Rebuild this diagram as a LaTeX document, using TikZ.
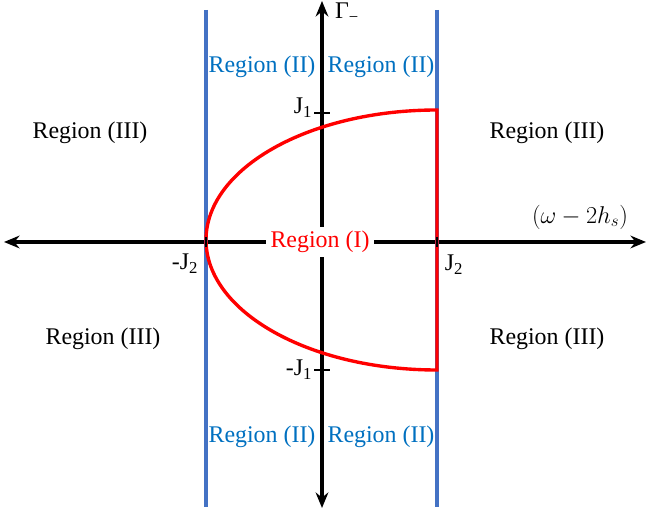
\documentclass[tikz,border=0pt]{standalone}
\usepackage{fontspec}
\setmainfont{Liberation Serif}
\usetikzlibrary{arrows.meta}
\definecolor{lineblue}{HTML}{4472C4}
\definecolor{textblue}{HTML}{0070C0}
\begin{document}
\begin{tikzpicture}[x=0.025cm, y=-0.025cm,
    every node/.style={font=\fontsize{17}{19}\selectfont, inner sep=1pt},
    axis/.style={line width=2.2pt, {Stealth[length=11pt,width=9pt]}-{Stealth[length=11pt,width=9pt]}},
    bound/.style={line width=2.2pt, lineblue},
    regtwo/.style={text=textblue},
    regthree/.style={text=black}]
    \useasboundingbox (0,0) rectangle (647,510);
    % axes
    \coordinate (left) at (4,242);
    \coordinate (right) at (646,242);
    \coordinate (top) at (322,1);
    \coordinate (bot) at (322,508);
    \draw[axis] (left) -- (right);
    \draw[axis] (top) -- (bot);
    % boundaries
    \coordinate (b1t) at (206,10);
    \coordinate (b1b) at (206,507);
    \coordinate (b2t) at (437,10);
    \coordinate (b2b) at (437,507);
    \draw[bound] (b1t) -- (b1b);
    \draw[bound] (b2t) -- (b2b);
    % region (I)
    \draw[red, line width=2.4pt] (437,110) arc[start angle=270, end angle=90, x radius=231, y radius=130] -- cycle;
    % ticks
    \draw[line width=1.8pt] (314,113) -- (330,113);
    \draw[line width=1.8pt] (314,370) -- (330,370);
    \draw[line width=1.8pt] (437,237) -- (437,247);
    \draw[line width=1.8pt] (206,237) -- (206,247);
    \node[fill=white, text=red, inner sep=3pt] (r1) at (320,242) {Region (I)};
    % labels
    \node[anchor=east] (j1) at (314,108) {J\textsubscript{1}};
    \node[anchor=east] (mj1) at (314,370) {-J\textsubscript{1}};
    \node (mj2) at (185,264) {-J\textsubscript{2}};
    \node (j2) at (454,265) {J\textsubscript{2}};
    \node (gam) at (347,13) {Γ\textsubscript{−}};
    \node (om) at (580,217) {$(\omega-2h_s)$};
    \node[regtwo] (r2a) at (262,67) {Region (II)};
    \node[regtwo] (r2b) at (381,67) {Region (II)};
    \node[regtwo] (r2c) at (262,437) {Region (II)};
    \node[regtwo] (r2d) at (381,437) {Region (II)};
    \node[regthree] (r3a) at (90,133) {Region (III)};
    \node[regthree] (r3b) at (547,133) {Region (III)};
    \node[regthree] (r3c) at (103,339) {Region (III)};
    \node[regthree] (r3d) at (547,339) {Region (III)};
\end{tikzpicture}
\end{document}
